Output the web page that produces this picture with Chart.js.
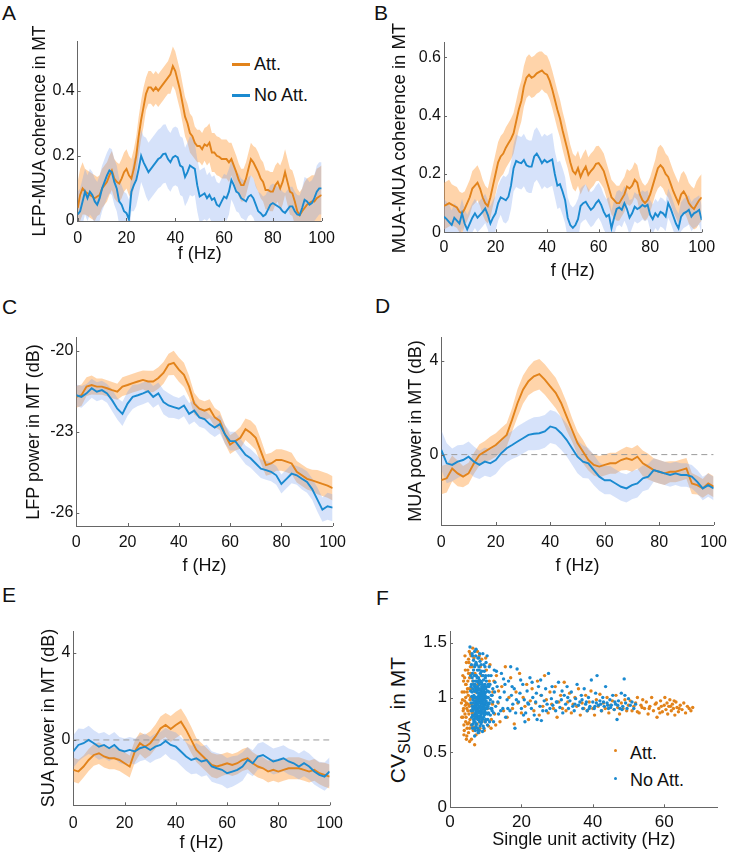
<!DOCTYPE html>
<html><head><meta charset="utf-8">
<script src="https://cdn.jsdelivr.net/npm/chart.js@4.4.1/dist/chart.umd.min.js"></script>
<style>
body{margin:0;background:#fff;}
#fig{position:relative;width:731px;height:853px;overflow:hidden;font-family:"Liberation Sans",Arial,sans-serif;color:#111;background:#fff;}
#fig canvas{position:absolute;}
.letter{position:absolute;font-size:21px;line-height:21px;}
.leg{position:absolute;font-size:18px;line-height:20px;white-space:nowrap;}
.sw{position:absolute;height:3px;width:18px;}
.dot{position:absolute;width:3px;height:3px;border-radius:50%;}
.ytitle{position:absolute;width:280px;height:22px;line-height:22px;text-align:center;font-size:18px;transform:rotate(-90deg);transform-origin:50% 50%;white-space:nowrap;}
#fyt{position:absolute;width:160px;height:24px;line-height:24px;text-align:center;font-size:21px;transform:rotate(-90deg);transform-origin:50% 50%;white-space:nowrap;}
#fyt sub{font-size:16px;vertical-align:-5px;line-height:0;}
</style></head><body>
<div id="fig">
  <div class="letter" style="left:2px;top:2px">A</div>
  <div class="letter" style="left:374px;top:2px">B</div>
  <div class="letter" style="left:2px;top:296px">C</div>
  <div class="letter" style="left:375px;top:295px">D</div>
  <div class="letter" style="left:2px;top:584px">E</div>
  <div class="letter" style="left:376px;top:587px">F</div>
  <div class="sw" style="left:232px;top:62.5px;background:#E2831B"></div>
  <div class="leg" style="left:254px;top:54px">Att.</div>
  <div class="sw" style="left:232px;top:93.5px;background:#1B8AD0"></div>
  <div class="leg" style="left:254px;top:85px">No Att.</div>
  <div class="dot" style="left:614px;top:748.5px;background:#E2831B"></div>
  <div class="leg" style="left:630px;top:743px">Att.</div>
  <div class="dot" style="left:614px;top:776.5px;background:#1B8AD0"></div>
  <div class="leg" style="left:630px;top:770px">No Att.</div>
  <div id="fyt" style="left:318px;top:708px">CV<sub>SUA</sub>&nbsp;&nbsp;in MT</div>
</div>
<script>
// ---------------- DATA ----------------
const FREQ_1HZ = Array.from({length:101},(_, i)=>i);      // 0..100 Hz
const FREQ_2HZ = Array.from({length:51},(_, i)=>2*i);     // 0..100 Hz
const SEM_FREQ_STEP = 5; // band half-width arrays given every 5 Hz

// Panel A: LFP-MUA coherence (1 Hz)
const A_ATT = [0.04,0.08,0.10,0.09,0.085,0.08,0.075,0.07,0.075,0.08,0.10,0.11,0.12,0.14,0.155,0.13,0.12,0.115,0.13,0.15,
 0.16,0.14,0.13,0.16,0.20,0.26,0.31,0.35,0.39,0.41,0.41,0.40,0.41,0.40,0.41,0.42,0.43,0.44,0.45,0.475,
 0.46,0.43,0.40,0.36,0.32,0.30,0.27,0.26,0.24,0.23,0.23,0.22,0.235,0.23,0.24,0.21,0.21,0.20,0.197,0.19,
 0.19,0.19,0.18,0.19,0.17,0.15,0.126,0.11,0.11,0.13,0.16,0.19,0.18,0.165,0.15,0.13,0.12,0.095,0.095,0.09,
 0.09,0.11,0.12,0.10,0.12,0.15,0.12,0.09,0.085,0.06,0.03,0.018,0.03,0.04,0.05,0.055,0.06,0.06,0.07,0.075,0.08];
const A_NOATT = [0.02,0.03,0.06,0.09,0.07,0.09,0.08,0.06,0.05,0.07,0.10,0.12,0.14,0.155,0.15,0.12,0.10,0.06,0.05,0.03,
 0.024,0.005,0.09,0.11,0.126,0.16,0.20,0.18,0.165,0.15,0.16,0.17,0.18,0.19,0.195,0.205,0.207,0.19,0.18,0.195,
 0.20,0.195,0.17,0.165,0.135,0.15,0.17,0.165,0.16,0.11,0.075,0.08,0.085,0.07,0.08,0.065,0.07,0.05,0.045,0.06,
 0.075,0.07,0.09,0.126,0.11,0.09,0.085,0.07,0.065,0.06,0.075,0.08,0.07,0.05,0.03,0.024,0.015,0.02,0.035,0.05,
 0.055,0.05,0.045,0.04,0.03,0.025,0.035,0.045,0.045,0.03,0.02,0.018,0.04,0.065,0.06,0.05,0.055,0.07,0.09,0.10,0.10];
const A_ATT_SEM   = [0.08,0.07,0.06,0.06,0.06,0.06,0.05,0.05,0.06,0.06,0.05,0.06,0.06,0.05,0.05,0.06,0.06,0.07,0.07,0.08,0.09];
const A_NOATT_SEM = [0.07,0.07,0.07,0.07,0.06,0.08,0.09,0.09,0.09,0.09,0.08,0.07,0.07,0.06,0.06,0.06,0.06,0.06,0.06,0.07,0.08];

// Panel B: MUA-MUA coherence (1 Hz)
const B_ATT = [0.09,0.095,0.10,0.095,0.09,0.085,0.07,0.065,0.08,0.10,0.12,0.15,0.16,0.17,0.15,0.12,0.10,0.09,0.12,0.16,
 0.20,0.24,0.26,0.27,0.29,0.305,0.32,0.34,0.38,0.42,0.45,0.50,0.53,0.54,0.53,0.535,0.545,0.55,0.555,0.545,
 0.54,0.52,0.49,0.455,0.42,0.39,0.35,0.315,0.28,0.24,0.21,0.20,0.22,0.19,0.21,0.225,0.197,0.21,0.22,0.235,
 0.237,0.225,0.21,0.18,0.15,0.12,0.11,0.10,0.10,0.115,0.13,0.157,0.15,0.16,0.18,0.17,0.13,0.11,0.10,0.11,
 0.13,0.16,0.19,0.22,0.23,0.22,0.20,0.19,0.165,0.14,0.12,0.10,0.13,0.14,0.125,0.10,0.088,0.08,0.095,0.11,0.12];
const B_NOATT = [0.054,0.045,0.035,0.025,0.05,0.04,0.03,0.065,0.03,0.01,0.03,0.05,0.065,0.05,0.06,0.07,0.082,0.06,0.03,0.05,
 0.065,0.10,0.12,0.115,0.11,0.122,0.16,0.22,0.245,0.24,0.237,0.248,0.23,0.225,0.225,0.26,0.27,0.255,0.237,0.248,
 0.24,0.245,0.25,0.20,0.16,0.165,0.14,0.11,0.05,0.025,0.015,0.025,0.045,0.09,0.10,0.105,0.09,0.077,0.085,0.10,
 0.11,0.094,0.07,0.054,0.06,0.014,0.05,0.08,0.085,0.077,0.10,0.08,0.05,0.065,0.088,0.08,0.085,0.094,0.088,0.094,
 0.06,0.045,0.065,0.054,0.07,0.065,0.054,0.10,0.08,0.055,0.03,0.014,0.054,0.065,0.07,0.077,0.054,0.065,0.07,0.077,0.042];
const B_ATT_SEM   = [0.08,0.07,0.06,0.06,0.07,0.07,0.07,0.07,0.065,0.065,0.06,0.06,0.06,0.06,0.06,0.06,0.06,0.07,0.07,0.07,0.08];
const B_NOATT_SEM = [0.06,0.05,0.05,0.05,0.06,0.08,0.09,0.09,0.09,0.08,0.07,0.06,0.06,0.06,0.06,0.05,0.05,0.05,0.05,0.05,0.05];

// Panel C: LFP power (dB, 2 Hz)
const C_ATT = [-21.71,-21.65,-21.33,-21.27,-21.33,-21.33,-21.39,-21.46,-21.52,-21.33,-21.27,-21.2,-21.14,-21.08,-21.14,-21.14,-21.01,
 -20.82,-20.51,-20.45,-20.7,-20.89,-21.33,-21.96,-22.15,-22.22,-22.15,-22.47,-22.6,-23.1,-23.48,-23.35,-23.23,-22.91,
 -23.04,-23.23,-23.73,-24.24,-24.18,-24.05,-24.05,-24.11,-24.18,-24.49,-24.62,-24.75,-24.81,-24.87,-24.94,-25.0,-25.1];
const C_NOATT = [-21.65,-21.71,-21.58,-21.39,-21.52,-21.46,-21.58,-21.84,-22.15,-22.34,-21.96,-21.71,-21.65,-21.58,-21.5,-21.71,-21.58,
 -21.9,-22.03,-22.09,-22.15,-22.03,-22.34,-22.22,-22.47,-22.53,-22.72,-22.85,-22.72,-23.1,-23.35,-23.35,-23.61,-23.86,
 -23.99,-24.18,-24.37,-24.43,-24.49,-24.62,-24.94,-24.75,-24.56,-24.62,-24.75,-24.87,-25.13,-25.51,-25.89,-25.77,-25.82];
const C_ATT_SEM   = [0.4,0.35,0.3,0.3,0.35,0.35,0.4,0.4,0.45,0.4,0.35,0.35,0.35,0.4,0.45,0.4,0.4,0.4,0.4,0.45,0.45];
const C_NOATT_SEM = [0.4,0.35,0.35,0.4,0.45,0.4,0.4,0.45,0.4,0.4,0.35,0.35,0.35,0.35,0.35,0.35,0.35,0.35,0.4,0.45,0.5];

// Panel D: MUA power (dB, 2 Hz)
const D_ATT = [-1.09,-1.01,-0.59,-0.8,-0.94,-0.8,-0.37,-0.01,0.13,0.27,0.41,0.63,0.84,1.49,2.2,2.77,3.13,3.34,3.43,3.2,
 2.91,2.63,2.2,1.63,1.06,0.49,0.13,-0.23,-0.44,-0.51,-0.44,-0.37,-0.37,-0.23,-0.16,-0.23,-0.09,-0.37,-0.51,-0.66,
 -0.73,-0.8,-0.73,-0.73,-0.66,-0.59,-1.23,-1.3,-1.44,-1.23,-1.37];
const D_NOATT = [0.2,-0.37,-0.44,-0.3,-0.23,-0.09,-0.3,-0.44,-0.3,-0.37,-0.23,0.06,0.27,0.41,0.56,0.7,0.84,0.89,0.91,0.99,
 1.2,1.13,0.91,0.63,0.27,-0.09,-0.3,-0.37,-0.66,-0.94,-1.09,-1.09,-1.23,-1.37,-1.44,-1.3,-1.23,-1.01,-0.94,-0.66,
 -0.73,-0.8,-0.87,-0.8,-0.87,-0.87,-0.94,-1.16,-1.44,-1.3,-1.44];
const D_ATT_SEM   = [0.6,0.55,0.45,0.45,0.5,0.5,0.6,0.65,0.65,0.6,0.5,0.45,0.45,0.45,0.5,0.55,0.5,0.45,0.45,0.4,0.45];
const D_NOATT_SEM = [0.85,0.7,0.65,0.6,0.6,0.6,0.65,0.7,0.7,0.7,0.7,0.65,0.6,0.6,0.6,0.55,0.5,0.5,0.5,0.5,0.5];

// Panel E: SUA power (dB, 2 Hz)
const E_ATT = [-1.37,-1.45,-1.22,-0.92,-0.69,-0.61,-0.76,-0.84,-0.84,-0.92,-1.07,-1.22,-0.53,-0.15,-0.31,-0.15,0.15,0.53,0.69,0.5,
 0.69,0.84,0.46,0.0,-0.46,-0.69,-0.92,-1.15,-1.22,-1.15,-1.07,-1.15,-1.07,-0.92,-0.84,-1.07,-1.22,-1.3,-1.45,-1.37,
 -1.45,-1.37,-1.3,-1.3,-1.3,-1.37,-1.45,-1.37,-1.53,-1.6,-1.68];
const E_NOATT = [-0.53,-0.23,-0.15,0.0,-0.15,-0.31,-0.23,-0.38,-0.23,-0.46,-0.53,-0.46,-0.53,-0.38,-0.31,-0.46,-0.31,-0.23,-0.05,-0.23,
 -0.31,-0.53,-0.76,-0.92,-0.84,-0.99,-0.92,-1.22,-1.3,-1.37,-1.53,-1.45,-1.37,-1.22,-0.92,-1.07,-0.76,-0.69,-0.84,-0.99,
 -0.92,-0.84,-0.99,-1.07,-1.22,-1.07,-1.22,-1.45,-1.6,-1.68,-1.45];
const E_ATT_SEM   = [0.55,0.5,0.5,0.5,0.5,0.5,0.55,0.55,0.6,0.6,0.55,0.55,0.5,0.5,0.5,0.5,0.5,0.5,0.5,0.5,0.55];
const E_NOATT_SEM = [0.75,0.65,0.6,0.6,0.6,0.6,0.6,0.6,0.65,0.65,0.7,0.7,0.7,0.65,0.6,0.6,0.6,0.6,0.6,0.6,0.65];

// Panel F: CV of single units vs rate [rate Hz, CV]
const F_ATT = [[3.5,0.98],[3.8,0.9],[4.0,1.05],[4.2,0.85],[4.4,0.78],[4.5,1.12],[4.6,0.95],[4.8,0.72],[5.0,1.25],[5.0,0.88],
 [5.1,1.02],[5.2,0.68],[5.3,1.32],[5.4,0.92],[5.5,1.18],[5.6,0.8],[5.7,1.4],[5.8,1.0],[5.9,0.75],[6.0,1.08],[6.0,0.62],
 [6.1,0.94],[6.2,1.28],[6.3,0.86],[6.4,1.15],[6.5,0.7],[6.6,1.0],[6.7,1.36],[6.8,0.9],[6.9,0.57],[7.0,1.22],[7.1,0.82],
 [7.2,1.05],[7.3,0.66],[7.4,1.3],[7.5,0.96],[7.6,0.76],[7.8,1.12],[8.0,0.88],[8.2,1.38],[8.4,0.72],[8.6,1.02],[8.8,1.2],
 [9.0,0.8],[9.2,0.95],[9.5,1.1],[3.6,0.82],[4.1,1.18],[4.7,0.65],[5.2,1.35],[5.5,0.6],[6.4,1.45],[7.7,1.42],[8.5,1.28],
 [3.9,0.75],[4.3,0.93],[4.9,1.08],[5.3,0.77],[5.8,1.22],[6.6,0.73],[7.3,0.98],[8.1,0.68],[9.8,0.78],[10.2,1.25],
 [3.2,0.95],[3.4,1.05],[3.7,0.88],[3.8,1.15],[4.0,0.7],[4.1,0.97],[4.3,1.25],[4.4,1.0],[4.5,0.82],[4.6,1.32],[4.7,0.9],
 [4.8,1.05],[4.9,0.76],[5.0,1.15],[5.1,0.94],[5.2,1.22],[5.3,0.85],[5.4,1.08],[5.5,0.72],[5.6,0.98],[5.7,1.28],[5.8,0.88],
 [5.9,1.38],[4.2,1.38],[3.6,1.2],[3.9,0.66],[4.6,0.62],[5.4,1.42],[3.3,0.82],[4.4,1.12],[10.8,0.74],[11.2,1.3],[11.6,0.8],
 [12.3,1.15],[9.6,0.7],[8.9,1.35],[10.0,1.36],[11.9,0.94],[12.8,0.75],[13.6,1.06],
 [10.5,0.9],[11,1.15],[11.5,0.72],[12,1.05],[12.5,0.85],[13,1.2],[13.5,0.95],[14,0.78],[14.5,1.1],[15,0.88],[15.5,1.28],
 [16,0.82],[16.5,1.0],[17,1.18],[17.5,0.9],[18,0.76],[18.5,1.05],[19,0.95],[19.5,1.22],[20,0.86],[20.5,1.0],[21,0.92],
 [21.5,1.12],[22,0.8],[22.5,0.97],[23,1.08],[23.5,0.88],[24,0.95],[24.5,1.15],[25,0.84],[25.5,1.02],[26,0.92],[26.5,1.2],
 [27,0.98],[27.5,0.86],[28,1.05],[28.5,0.94],[29,0.9],[29.5,1.1],[30,0.82],[30.5,0.96],[31,1.02],[31.5,0.9],[32,1.14],
 [32.5,0.88],[33,0.96],[33.5,1.04],[34,0.86],[34.5,0.94],[35,1.0],[35.5,0.92],[36,1.08],[36.5,0.84],[37,0.95],[37.5,0.9],
 [38,1.02],[38.5,0.88],[39,0.96],[39.5,1.06],[40,0.9],[40.5,0.84],[41,0.98],[41.5,0.92],[42,1.03],[42.5,0.88],[43,0.95],
 [43.5,0.9],[44,1.0],[44.5,0.86],[45,0.93],[45.5,0.97],[46,0.89],[46.5,1.02],[47,0.91],[47.5,0.85],[48,0.95],[48.5,0.9],
 [49,0.98],[49.5,0.88],[50,0.93],[50.5,0.97],[51,0.88],[51.5,0.92],[52,0.95],[52.5,1.0],[53,0.86],[53.5,0.93],[54,0.98],
 [54.5,0.9],[55,0.96],[55.5,0.85],[56,0.92],[56.5,1.0],[57,0.88],[57.5,0.94],[58,0.82],[58.5,0.9],[59,0.97],[59.5,0.87],
 [60,0.93],[60.2,1.0],[60.5,0.89],[60.8,0.95],[61,0.85],[61.3,0.92],[61.6,0.98],[62,0.88],[62.3,0.94],[62.6,0.9],[63,0.84],
 [63.3,0.96],[63.6,0.91],[64,0.87],[64.5,0.93],[65,0.89],[65.5,0.95],[66,0.86],[66.5,0.92],[67,0.9],[67.5,0.88],[68,0.91],
 [59.2,0.92],[61.8,0.92],[58.8,0.86],[62.8,0.97],[64.2,0.9],[57.8,0.95],[55.8,0.9],[53.8,0.91],[52.5,0.87]];
const F_NOATT = [[5.6,1.46],[5.8,1.2],[5.9,0.95],[6.0,1.3],[6.1,0.82],[6.2,1.05],[6.3,1.38],[6.3,0.72],[6.4,0.98],[6.5,1.15],
 [6.5,0.88],[6.6,1.25],[6.7,1.02],[6.7,0.78],[6.8,0.92],[6.9,1.1],[6.9,1.42],[7.0,0.85],[7.0,1.0],[7.1,1.2],[7.1,0.7],
 [7.2,0.95],[7.2,1.08],[7.3,1.32],[7.3,0.88],[7.4,1.0],[7.4,0.76],[7.5,1.15],[7.5,0.93],[7.6,1.05],[7.6,0.82],[7.7,1.25],
 [7.7,0.97],[7.8,0.9],[7.8,1.1],[7.9,0.68],[7.9,1.0],[8.0,1.18],[8.0,0.86],[8.1,0.96],[8.1,1.36],[8.2,1.04],[8.2,0.8],
 [8.3,0.92],[8.3,1.12],[8.4,1.0],[8.4,0.74],[8.5,0.88],[8.5,1.22],[8.6,0.97],[8.6,1.06],[8.7,0.84],[8.7,1.3],[8.8,0.94],
 [8.8,1.14],[8.9,1.0],[8.9,0.78],[9.0,0.9],[9.0,1.08],[9.1,1.2],[9.1,0.86],[9.2,0.98],[9.2,1.4],[9.3,0.92],[9.3,1.05],
 [9.4,0.82],[9.4,1.16],[9.5,1.0],[9.5,0.72],[9.6,0.95],[9.6,1.1],[9.7,0.88],[9.8,1.02],[9.8,1.28],[9.9,0.93],[10.0,1.08],
 [10.0,0.8],[10.1,0.97],[10.2,1.15],[10.3,0.9],[10.4,1.38],[10.5,1.0],[10.6,0.85],[10.7,1.12],[10.8,0.94],[11.0,1.05],
 [11.1,0.78],[11.3,0.98],[11.5,1.2],[11.7,0.9],[12.0,1.08],[12.2,0.86],[6.0,1.12],[6.4,0.9],[6.8,1.06],[7.2,0.86],[7.6,0.9],
 [8.0,1.0],[8.4,0.92],[8.8,0.88],[9.2,0.9],[9.6,1.02],[10.0,0.95],[6.6,0.8],[7.0,1.12],[7.4,1.08],[7.8,0.95],[8.2,1.16],
 [8.6,0.9],[9.0,0.98],[9.4,0.95],[9.9,1.18],[5.8,1.06],[6.2,0.92],[7.0,0.93],[7.8,1.04],[8.6,1.0],[9.4,1.06],[10.4,0.9],
 [6.5,1.0],[7.5,1.0],[8.5,0.96],[9.5,0.86],[10.8,1.2],[11.8,1.02],[12.4,1.25],[7.3,1.44],[8.0,0.7],[9.1,0.69],[6.9,0.65],
 [10.5,0.75],
 [6.1,1.01],[6.2,1.18],[6.3,0.84],[6.4,1.08],[6.5,0.95],[6.6,1.12],[6.7,0.9],[6.8,0.83],[6.8,1.2],[6.9,0.97],[7.0,1.06],
 [7.0,0.78],[7.1,0.92],[7.1,1.15],[7.2,1.0],[7.2,0.81],[7.3,1.1],[7.3,0.94],[7.4,1.2],[7.4,0.9],[7.5,0.84],[7.5,1.06],
 [7.6,0.98],[7.6,1.18],[7.7,0.88],[7.7,1.08],[7.8,0.8],[7.8,1.0],[7.9,0.93],[7.9,1.14],[8.0,0.95],[8.0,1.07],[8.1,0.83],
 [8.1,1.02],[8.2,0.91],[8.2,1.25],[8.3,0.98],[8.3,0.78],[8.4,1.08],[8.4,0.86],[8.5,1.02],[8.5,0.92],[8.6,0.82],[8.6,1.15],
 [8.7,0.95],[8.7,1.04],[8.8,0.9],[8.8,1.0],[8.9,1.1],[8.9,0.86],[9.0,0.94],[9.0,1.02],[9.1,0.8],[9.1,1.12],[9.2,0.96],
 [9.2,1.04],[9.3,0.86],[9.3,1.2],[9.4,1.0],[9.4,0.9],[9.5,1.08],[9.5,0.95],[9.6,0.84],[9.6,1.24],[9.7,0.98],[9.7,1.04],
 [9.8,0.9],[9.8,1.12],[9.9,0.85],[9.9,1.0],[10.0,0.9],[10.0,1.2],[10.1,1.05],[10.2,0.86],[10.2,1.0],[10.3,1.1],[10.4,0.95],
 [10.5,1.06],[10.6,0.92],[10.7,1.0],[10.8,0.86],[10.9,1.1],[11.0,0.95],[11.2,1.12],[11.4,0.9],[11.6,1.02],[11.8,0.88],
 [12.0,0.96],[6.3,1.22],[6.6,1.34],[6.9,1.28],[7.2,1.38],[7.5,1.3],[7.8,1.36],[8.1,1.28],[8.4,1.33],[8.9,1.24],[9.5,1.3],
 [6.5,0.76],[6.9,0.72],[7.3,0.74],[7.7,0.72],[8.2,0.7],[8.7,0.76],[9.3,0.74],[9.9,0.78],[10.6,0.8],[6.2,1.4],[6.0,0.88],
 [5.9,1.1],[6.1,0.75],[7.0,1.3],[8.3,1.4],[11.3,0.84],[11.0,1.28],[12.5,1.05],[12.2,0.78],[10.1,1.32],
 [12.8,0.92],[13.2,1.1],[13.6,0.85],[14,1.0],[14.4,1.22],[14.8,0.9],[15.2,1.05],[15.6,0.82],[16,0.98],
 [16.4,1.15],[16.8,0.88],[17.2,1.02],[17.6,0.94],[18,1.08],[18.4,0.86],[18.8,1.26],[19.2,0.96],[19.6,1.04],[20,0.9],
 [20.4,1.12],[20.8,0.98],[21.2,0.86],[21.6,1.06],[22,0.94],[22.4,1.18],[22.8,0.9],[23.2,1.0],[23.6,0.84],[24,0.96],
 [24.4,0.8],[24.8,1.1],[25.2,0.92],[25.6,1.02],[26,0.88],[26.4,0.97],[26.8,1.08],[27.2,0.94],[27.6,1.22],[28,0.9],
 [28.4,0.99],[28.8,0.93],[29.2,1.05],[29.6,0.88],[30,0.96],[30.4,1.14],[30.8,0.91],[31.2,0.98],[31.6,0.86],[32,1.02],
 [32.4,0.94],[32.8,1.1],[33.2,0.9],[33.6,0.97],[34,1.05],[34.4,0.92],[34.8,0.88],[35.2,0.99],[35.6,1.12],[36,0.93],
 [36.4,0.96],[36.8,1.02],[37.2,0.9],[37.6,1.08],[38,0.94],[38.4,0.88],[38.8,1.0],[39.2,0.92],[39.6,1.16],[40,0.96],
 [40.4,0.9],[40.8,1.04],[41.2,1.2],[41.6,0.93],[42,0.97],[42.4,0.88],[42.8,1.0],[43.2,0.92],[43.6,1.1],[44,0.95],
 [44.4,0.9],[44.8,0.98],[45.2,0.93],[45.6,1.02],[46,0.89],[46.4,0.94],[46.8,0.8],[47.2,0.97],[47.6,0.9],[48,1.04],
 [48.4,0.92],[48.8,1.17],[49.2,0.95],[49.6,0.9],[50,0.99],[50.5,0.93],[51,0.96],[51.5,0.9],[52,0.94],[18.2,0.72],
 [21,0.78],[25.6,0.79],[13,1.24],[15,1.17],[17,1.28],
 [12.6,1.14],[13.4,0.96],[14.2,0.88],[15.4,1.12],[16.2,0.9],[17.4,1.1],[18.6,0.98],[19.8,1.16],[20.6,0.84],[21.8,0.95],
 [23,1.14],[24.2,1.04],[25.4,1.16],[27,0.88],[28.6,1.1],[29.8,0.96],[31.4,1.06],[33,1.0],[35,0.94],[37,0.98],[39,0.9],
 [41,0.95],[43,0.96],[45,0.91],[47,0.93],[49,1.02],[40.6,0.92],[42.2,0.94],[44.2,0.93],[46.2,0.96],[48.2,0.89],[38.2,0.96]];

// tick labels
const FREQ_TICKS = [0,20,40,60,80,100];
const A_YTICKS = [0,0.2,0.4];
const B_YTICKS = [0,0.2,0.4,0.6];
const C_YTICKS = [-26,-23,-20];
const D_YTICKS = [0,4];
const E_YTICKS = [0,4];
const F_XTICKS = [0,20,40,60];
const F_YTICKS = [0,0.5,1,1.5];

// ---------------- STYLE ----------------
const ORANGE = '#E2831B', BLUE = '#1B8AD0';
const ORANGE_BAND = 'rgba(255,166,77,0.48)', BLUE_BAND = 'rgba(120,160,238,0.30)';
const TXT = '#111', AXIS = '#666';
Chart.defaults.font.family = '"Liberation Sans", Arial, sans-serif';
Chart.defaults.color = TXT;

const fig = document.getElementById('fig');

const inTicks = {
  id: 'inTicks',
  afterDraw(chart) {
    const {ctx, chartArea: a, scales: {x, y}} = chart;
    ctx.save(); ctx.strokeStyle = AXIS; ctx.lineWidth = 1; ctx.beginPath();
    x.ticks.forEach(t => { const p = Math.round(x.getPixelForValue(t.value)) + 0.5; ctx.moveTo(p, a.bottom); ctx.lineTo(p, a.bottom - 3); });
    y.ticks.forEach(t => { const p = Math.round(y.getPixelForValue(t.value)) + 0.5; ctx.moveTo(a.left, p); ctx.lineTo(a.left + 3, p); });
    ctx.stroke(); ctx.restore();
  }
};

function pts(freq, vals) { return freq.map((f, i) => ({x: f, y: vals[i]})); }
function band(freq, vals, sem, sign) {
  return freq.map((f, i) => ({x: f, y: vals[i] + sign * sem[Math.round(f / SEM_FREQ_STEP)]}));
}

function makeChart(g, type, datasets, xr, yr, xTicks, yTicks, xTitle, yTitle, tickSize, titleSize) {
  const tlh = titleSize * 1.2;
  const leftExact = g.ytx - 4 - tlh / 2;
  const cl = Math.floor(leftExact);
  const ct = Math.max(0, Math.floor(g.area[1] - 14));
  const cr = Math.ceil(g.area[2] + 20);
  const bottomExact = g.xty + 4 + tlh / 2;
  const cb = Math.ceil(bottomExact);
  const cv = document.createElement('canvas');
  cv.width = cr - cl; cv.height = cb - ct;
  cv.style.left = cl + 'px'; cv.style.top = ct + 'px';
  fig.appendChild(cv);
  if (yTitle) {
    const d = document.createElement('div');
    d.className = 'ytitle';
    d.textContent = yTitle;
    if (g.ysize) d.style.fontSize = g.ysize + 'px';
    d.style.left = (g.ytx - 140) + 'px';
    d.style.top = ((g.area[1] + g.area[3]) / 2 - 11) + 'px';
    fig.appendChild(d);
  }
  const yW = g.area[0] - leftExact;
  const xH = bottomExact - g.area[3];
  const fmt = v => String(v);
  return new Chart(cv, {
    type: type,
    data: {datasets: datasets},
    plugins: [inTicks],
    options: {
      responsive: false, animation: false, devicePixelRatio: 1, events: [],
      layout: {padding: {left: leftExact - cl, top: g.area[1] - ct, right: cr - g.area[2], bottom: cb - bottomExact}},
      plugins: {legend: {display: false}, tooltip: {enabled: false}},
      scales: {
        x: {type: 'linear', min: xr[0], max: xr[1],
            afterBuildTicks: s => { s.ticks = xTicks.map(v => ({value: v})); },
            afterFit: s => { s.height = xH; },
            grid: {display: false, drawTicks: false},
            border: {display: true, color: AXIS, width: 1},
            ticks: {font: {size: tickSize}, padding: g.tpad, maxRotation: 0, autoSkip: false, color: TXT, callback: fmt},
            title: {display: true, text: xTitle, font: {size: titleSize}, color: TXT, padding: {top: 4, bottom: 4}}},
        y: {type: 'linear', min: yr[0], max: yr[1],
            afterBuildTicks: s => { s.ticks = yTicks.map(v => ({value: v})); },
            afterFit: s => { s.width = yW; },
            grid: {display: false, drawTicks: false},
            border: {display: true, color: AXIS, width: 1},
            ticks: {font: {size: tickSize}, padding: 3, autoSkip: false, color: TXT, callback: fmt},
            title: {display: false}}
      }
    }
  });
}

function lineSets(freq, att, noatt, semAtt, semNo, dashedZero) {
  const base = {pointRadius: 0, tension: 0, fill: false};
  const ds = [
    Object.assign({}, base, {data: pts(freq, noatt), borderColor: BLUE, borderWidth: 1.9, order: 0}),
    Object.assign({}, base, {data: pts(freq, att), borderColor: ORANGE, borderWidth: 1.9, order: 1}),
    Object.assign({}, base, {data: band(freq, noatt, semNo, 1), borderColor: 'transparent', borderWidth: 0, backgroundColor: BLUE_BAND, fill: '+1', order: 3}),
    Object.assign({}, base, {data: band(freq, noatt, semNo, -1), borderColor: 'transparent', borderWidth: 0, order: 4}),
    Object.assign({}, base, {data: band(freq, att, semAtt, 1), borderColor: 'transparent', borderWidth: 0, backgroundColor: ORANGE_BAND, fill: '+1', order: 5}),
    Object.assign({}, base, {data: band(freq, att, semAtt, -1), borderColor: 'transparent', borderWidth: 0, order: 6})
  ];
  if (dashedZero) ds.push(Object.assign({}, base, {data: [{x: 0, y: 0}, {x: 100, y: 0}], borderColor: '#9a9a9a', borderDash: [6, 4], borderWidth: 1, order: 2}));
  return ds;
}

const GEO = {
  A: {area: [77.7, 41.7, 322.7, 221], ytx: 38.5, xty: 254, tpad: 8, ysize: 17.5},
  B: {area: [444, 42.7, 701.7, 232.3], ytx: 399, xty: 271, tpad: 6, ysize: 18.5},
  C: {area: [76.3, 337.3, 332.7, 526], ytx: 33, xty: 566, tpad: 7},
  D: {area: [441.3, 337.3, 714.3, 525], ytx: 415, xty: 566, tpad: 8},
  E: {area: [73.3, 631, 331.7, 805.3], ytx: 48, xty: 843, tpad: 9},
  F: {area: [450, 631.7, 717.7, 807.3], ytx: 400, xty: 840, tpad: 5}
};

makeChart(GEO.A, 'line', lineSets(FREQ_1HZ, A_ATT, A_NOATT, A_ATT_SEM, A_NOATT_SEM, false), [0, 100], [0, 0.55], FREQ_TICKS, A_YTICKS, 'f (Hz)', 'LFP-MUA coherence in MT', 16, 18);
makeChart(GEO.B, 'line', lineSets(FREQ_1HZ, B_ATT, B_NOATT, B_ATT_SEM, B_NOATT_SEM, false), [0, 100], [0, 0.65], FREQ_TICKS, B_YTICKS, 'f (Hz)', 'MUA-MUA coherence in MT', 16, 18);
makeChart(GEO.C, 'line', lineSets(FREQ_2HZ, C_ATT, C_NOATT, C_ATT_SEM, C_NOATT_SEM, false), [0, 100], [-26.5, -19.5], FREQ_TICKS, C_YTICKS, 'f (Hz)', 'LFP power in MT (dB)', 16, 18);
makeChart(GEO.D, 'line', lineSets(FREQ_2HZ, D_ATT, D_NOATT, D_ATT_SEM, D_NOATT_SEM, true), [0, 100], [-3, 5], FREQ_TICKS, D_YTICKS, 'f (Hz)', 'MUA power in MT (dB)', 16, 18);
makeChart(GEO.E, 'line', lineSets(FREQ_2HZ, E_ATT, E_NOATT, E_ATT_SEM, E_NOATT_SEM, true), [0, 100], [-3, 5], FREQ_TICKS, E_YTICKS, 'f (Hz)', 'SUA power in MT (dB)', 16, 18);
makeChart(GEO.F, 'scatter', [
  {data: F_NOATT.map(p => ({x: p[0], y: p[1]})), backgroundColor: BLUE, borderWidth: 0, pointRadius: 1.7, order: 0},
  {data: F_ATT.map(p => ({x: p[0], y: p[1]})), backgroundColor: ORANGE, borderWidth: 0, pointRadius: 1.7, order: 1}
], [0, 75], [0, 1.6], F_XTICKS, F_YTICKS, 'Single unit activity (Hz)', null, 17, 18);
</script>
</body></html>
